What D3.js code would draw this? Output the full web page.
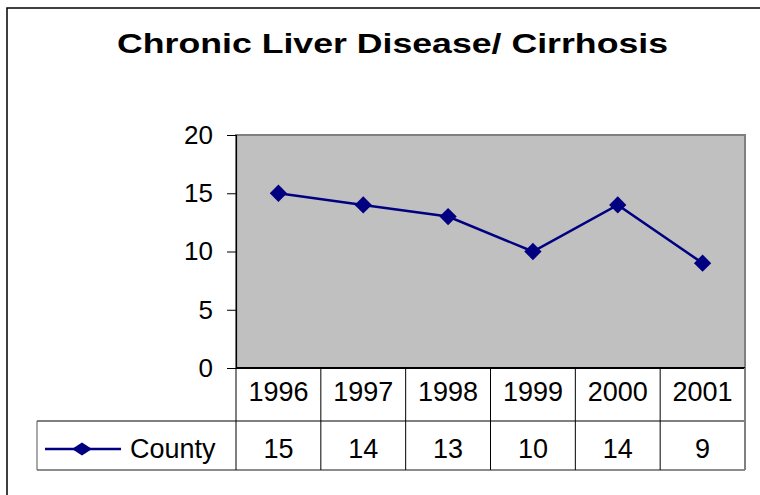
<!DOCTYPE html>
<html>
<head>
<meta charset="utf-8">
<script src="https://cdn.jsdelivr.net/npm/d3@7"></script>
<style>
  body { margin: 0; background: #fff; }
  text { font-family: "Liberation Sans", Arial, sans-serif; }
</style>
</head>
<body>
<script>
var width = 760;
var height = 495;

// data
var years = ["1996", "1997", "1998", "1999", "2000", "2001"];
var county = [15, 14, 13, 10, 14, 9];
var yTicks = [0, 5, 10, 15, 20];
var seriesName = "County";
var chartTitle = "Chronic Liver Disease/ Cirrhosis";

var plot = {left: 236, right: 745, top: 135, bottom: 368};
var rowH = 53;
var row2H = 49;
var legendLeft = 37;

var svg = d3.select("body")
  .append("svg")
  .attr("width", width)
  .attr("height", height);

// outer chart border
svg.append("rect")
  .attr("x", 7).attr("y", 8)
  .attr("width", width + 10).attr("height", height + 10)
  .attr("fill", "#fff")
  .attr("stroke", "#000")
  .attr("stroke-width", 1.5);

svg.append("text")
  .attr("x", 392.5).attr("y", 53)
  .attr("text-anchor", "middle")
  .attr("font-size", 28)
  .attr("font-weight", "bold")
  .attr("textLength", 551)
  .attr("lengthAdjust", "spacingAndGlyphs")
  .text(chartTitle);

var xScale = d3.scaleBand()
  .domain(years)
  .range([plot.left, plot.right]);

var yScale = d3.scaleLinear()
  .domain([0, 20])
  .range([plot.bottom, plot.top]);

// plot area
svg.append("rect")
  .attr("x", plot.left).attr("y", plot.top)
  .attr("width", plot.right - plot.left)
  .attr("height", plot.bottom - plot.top)
  .attr("fill", "#c0c0c0")
  .attr("stroke", "#808080")
  .attr("stroke-width", 2);

var yAxis = svg.append("g")
  .attr("transform", "translate(" + plot.left + ",0)")
  .call(d3.axisLeft(yScale).tickValues(yTicks).tickSize(9).tickPadding(14));
yAxis.select(".domain").attr("stroke", "#000").attr("stroke-width", 1.2);
yAxis.selectAll(".tick line").attr("stroke", "#000");
yAxis.selectAll(".tick text")
  .attr("font-size", 26)
  .attr("font-family", "Liberation Sans, Arial, sans-serif")
  .attr("fill", "#000");

// line + markers
var line = d3.line()
  .x(function(d, i) { return xScale(years[i]) + xScale.bandwidth() / 2; })
  .y(function(d) { return yScale(d); });

svg.append("path")
  .datum(county)
  .attr("d", line)
  .attr("fill", "none")
  .attr("stroke", "#000080")
  .attr("stroke-width", 2.5);

var diamond = d3.symbol().type(d3.symbolDiamond2).size(190);

svg.selectAll(".marker")
  .data(county)
  .enter()
  .append("path")
  .attr("class", "marker")
  .attr("d", diamond)
  .attr("transform", function(d, i) {
    return "translate(" + (xScale(years[i]) + xScale.bandwidth() / 2) + "," + yScale(d) + ")";
  })
  .attr("fill", "#000080");

// data table
var table = svg.append("g");
var row1Bottom = plot.bottom + rowH;
var row2Bottom = row1Bottom + row2H;

// horizontal lines
table.append("line")
  .attr("x1", plot.left).attr("x2", plot.right)
  .attr("y1", plot.bottom).attr("y2", plot.bottom)
  .attr("stroke", "#000").attr("stroke-width", 2);
table.append("line")
  .attr("x1", legendLeft).attr("x2", plot.right)
  .attr("y1", row1Bottom).attr("y2", row1Bottom)
  .attr("stroke", "#000").attr("stroke-width", 1);
table.append("line")
  .attr("x1", legendLeft).attr("x2", plot.right)
  .attr("y1", row2Bottom).attr("y2", row2Bottom)
  .attr("stroke", "#666").attr("stroke-width", 1.5);

// vertical lines
var bounds = years.map(function(y) { return xScale(y); }).concat([plot.right]);
table.selectAll(".vline")
  .data(bounds)
  .enter()
  .append("line")
  .attr("class", "vline")
  .attr("x1", function(d) { return d; })
  .attr("x2", function(d) { return d; })
  .attr("y1", plot.bottom)
  .attr("y2", row2Bottom)
  .attr("stroke", function(d, i) { return i === bounds.length - 1 ? "#808080" : "#000"; })
  .attr("stroke-width", function(d, i) { return i === bounds.length - 1 ? 2 : 1; });
table.append("line")
  .attr("x1", legendLeft).attr("x2", legendLeft)
  .attr("y1", row1Bottom).attr("y2", row2Bottom)
  .attr("stroke", "#555").attr("stroke-width", 1);

table.selectAll(".yearLabel")
  .data(years)
  .enter()
  .append("text")
  .attr("class", "yearLabel")
  .attr("x", function(d) { return xScale(d) + xScale.bandwidth() / 2; })
  .attr("y", plot.bottom + 33)
  .attr("text-anchor", "middle")
  .attr("font-size", 27)
  .text(function(d) { return d; });

table.selectAll(".valLabel")
  .data(county)
  .enter()
  .append("text")
  .attr("class", "valLabel")
  .attr("x", function(d, i) { return xScale(years[i]) + xScale.bandwidth() / 2; })
  .attr("y", row1Bottom + 37)
  .attr("text-anchor", "middle")
  .attr("font-size", 27)
  .text(function(d) { return d; });

// legend key
var keyY = row1Bottom + 28;
table.append("line")
  .attr("x1", 45).attr("x2", 121)
  .attr("y1", keyY).attr("y2", keyY)
  .attr("stroke", "#000080").attr("stroke-width", 2.5);
table.append("path")
  .attr("d", "M0,-6.5L10,0L0,6.5L-10,0Z")
  .attr("transform", "translate(82," + keyY + ")")
  .attr("fill", "#000080");
table.append("text")
  .attr("x", 130).attr("y", row1Bottom + 37)
  .attr("font-size", 27)
  .text(seriesName);
</script>
</body>
</html>
